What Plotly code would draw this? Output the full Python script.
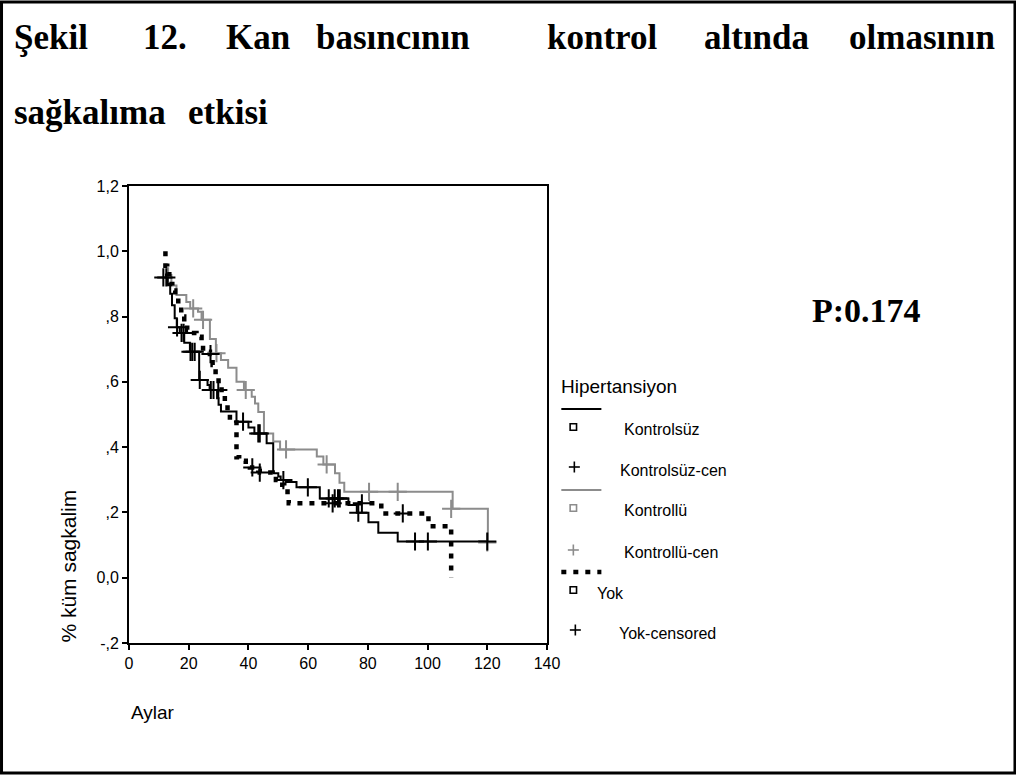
import plotly.graph_objects as go

# ---------------- data ----------------
# Kontrolsüz (black solid KM step curve)
kontrolsuz_t = [12.0, 13.0, 13.8, 14.4, 15.3, 16.0, 17.0, 18.5, 20.4, 23.5, 26.3, 27.0, 29.5, 30.0,
                30.8, 36.0, 40.0, 42.0, 46.1, 48.3, 50.0, 50.8, 52.5, 56.1, 63.9, 73.5, 76.3, 80.2,
                83.5, 90.0, 120.0]
kontrolsuz_s = [0.92, 0.90, 0.87, 0.835, 0.795, 0.767, 0.75, 0.72, 0.692, 0.606, 0.59, 0.575, 0.55, 0.53,
                0.509, 0.478, 0.46, 0.442, 0.412, 0.32, 0.31, 0.299, 0.293, 0.277, 0.243, 0.223, 0.199, 0.17,
                0.138, 0.111, 0.111]
kontrolsuz_cen_t = [11.5, 12.5, 16.1, 17.6, 18.3, 20.6, 21.2, 22.0, 23.7, 27.4, 28.3, 29.9, 38.2, 43.3,
                    43.8, 51.7, 59.9, 66.9, 68.9, 70.0, 70.6, 76.8, 95.8, 100.1, 120.0]
kontrolsuz_cen_s = [0.92, 0.92, 0.767, 0.75, 0.75, 0.692, 0.692, 0.692, 0.606, 0.575, 0.575, 0.575, 0.478, 0.442,
                    0.442, 0.299, 0.277, 0.243, 0.243, 0.243, 0.243, 0.199, 0.111, 0.111, 0.111]

# Kontrollü (gray solid KM step curve)
kontrollu_t = [12.3, 13.1, 14.2, 15.9, 19.2, 20.5, 23.1, 24.3, 27.1, 29.1, 30.8, 33.2, 36.0, 38.5, 41.1,
               42.2, 43.3, 45.2, 48.3, 50.6, 62.9, 65.1, 69.0, 70.5, 72.1, 108.4, 120.2]
kontrollu_s = [0.948, 0.927, 0.895, 0.866, 0.845, 0.825, 0.815, 0.79, 0.731, 0.688, 0.667, 0.643, 0.6, 0.575, 0.554,
               0.534, 0.508, 0.442, 0.417, 0.393, 0.371, 0.347, 0.32, 0.291, 0.263, 0.211, 0.108]
kontrollu_cen_t = [21.5, 24.8, 29.3, 39.1, 52.6, 66.2, 80.4, 90.0, 107.9, 120.0]
kontrollu_cen_s = [0.825, 0.79, 0.688, 0.575, 0.393, 0.347, 0.263, 0.263, 0.211, 0.108]

# Yok (black dotted KM step curve)
yok_t = [12.2, 12.2, 12.8, 13.5, 14.5, 15.5, 16.5, 17.5, 18.5, 19.5, 21.0, 22.6, 24.3, 24.8, 27.1, 28.0,
         29.0, 30.0, 31.0, 32.1, 33.0, 33.8, 36.0, 36.9, 38.0, 39.1, 40.5, 42.2, 43.3, 43.8, 48.1, 49.2,
         50.5, 52.0, 53.1, 53.5, 84.5, 100.3, 107.9]
yok_s = [1.0, 0.956, 0.93, 0.90, 0.88, 0.86, 0.83, 0.80, 0.78, 0.76, 0.75, 0.738, 0.723, 0.692, 0.685, 0.652,
         0.616, 0.585, 0.56, 0.539, 0.51, 0.483, 0.369, 0.361, 0.358, 0.345, 0.338, 0.332, 0.328, 0.322, 0.315, 0.299,
         0.285, 0.272, 0.246, 0.228, 0.197, 0.158, 0.0]
yok_cen_t = [27.3, 41.3, 43.8, 68.2, 78.0, 91.7]
yok_cen_s = [0.685, 0.338, 0.322, 0.228, 0.228, 0.197]

y_tickvals = [-0.2, 0.0, 0.2, 0.4, 0.6, 0.8, 1.0, 1.2]
y_ticktext = ["-,2", "0,0", ",2", ",4", ",6", ",8", "1,0", "1,2"]
x_tickvals = [0, 20, 40, 60, 80, 100, 120, 140]

title_line1 = ["Şekil", "12.", "Kan", "basıncının", "kontrol", "altında", "olmasının"]
title_line2 = ["sağkalıma", "etkisi"]
legend_title = "Hipertansiyon"
legend_labels = ["Kontrolsüz", "Kontrolsüz-cen", "Kontrollü", "Kontrollü-cen", "Yok", "Yok-censored"]

# ---------------- layout geometry ----------------
W, H = 1016, 775
L, R, T, B = 129.3, 546.7, 186.0, 643.0
PW, PH = R - L, B - T


def px(x):
    return (x - L) / PW


def py(y):
    return (B - y) / PH


GRAY = "#8c8c8c"
SANS = "Liberation Sans, Arial, sans-serif"
SERIF = "Liberation Serif, Times New Roman, serif"

fig = go.Figure()

fig.add_trace(go.Scatter(x=kontrollu_t, y=kontrollu_s, mode="lines", line=dict(color=GRAY, width=2, shape="hv"),
                         name="Kontrollü", showlegend=False, hoverinfo="skip"))
fig.add_trace(go.Scatter(x=yok_t, y=yok_s, mode="lines",
                         line=dict(color="black", width=4.5, shape="hv", dash="5px,7px"),
                         name="Yok", showlegend=False, hoverinfo="skip"))
fig.add_trace(go.Scatter(x=kontrolsuz_t, y=kontrolsuz_s, mode="lines", line=dict(color="black", width=2, shape="hv"),
                         name="Kontrolsüz", showlegend=False, hoverinfo="skip"))
fig.add_trace(go.Scatter(x=kontrollu_cen_t, y=kontrollu_cen_s, mode="markers",
                         marker=dict(symbol="cross-thin", size=13, line=dict(color=GRAY, width=2)),
                         name="Kontrollü-cen", showlegend=False, hoverinfo="skip"))
fig.add_trace(go.Scatter(x=kontrolsuz_cen_t, y=kontrolsuz_cen_s, mode="markers",
                         marker=dict(symbol="cross-thin", size=13, line=dict(color="black", width=2)),
                         name="Kontrolsüz-cen", showlegend=False, hoverinfo="skip"))
fig.add_trace(go.Scatter(x=yok_cen_t, y=yok_cen_s, mode="markers",
                         marker=dict(symbol="cross-thin", size=13, line=dict(color="black", width=2)),
                         name="Yok-censored", showlegend=False, hoverinfo="skip"))

shapes = []
annotations = []

# outer page frame
shapes.append(dict(type="rect", xref="paper", yref="paper", x0=px(2), x1=px(1014), y0=py(2), y1=py(773),
                   line=dict(color="black", width=3), layer="above"))


def text(t, x, y, size, font=SANS, anchor="left", bold=False, color="black", angle=0):
    annotations.append(dict(text=("<b>%s</b>" % t) if bold else t, x=px(x), y=py(y), xref="paper", yref="paper",
                            xanchor=anchor, yanchor="middle", showarrow=False, textangle=angle,
                            font=dict(family=font, size=size, color=color)))


# title
line1_x = [12, 141, 224, 314, 545, 701, 846]
for w, x in zip(title_line1, line1_x):
    text(w, x, 37, 35, font=SERIF, bold=True)
line2_x = [12, 186]
for w, x in zip(title_line2, line2_x):
    text(w, x, 113, 35, font=SERIF, bold=True)

text("P:0.174", 866, 310, 34, font=SERIF, bold=True, anchor="center")

# axis titles
text("% küm sagkalim", 68, 566, 21, angle=-90, anchor="center")
text("Aylar", 129, 712, 19)

# legend
text(legend_title, 559, 386, 19)


def hline(x0, x1, y, color, width=2, dash=None):
    ln = dict(color=color, width=width)
    if dash:
        ln["dash"] = dash
    shapes.append(dict(type="line", xref="paper", yref="paper", x0=px(x0), x1=px(x1), y0=py(y), y1=py(y), line=ln))


def square(cx, cy, color):
    s = 3.2
    shapes.append(dict(type="rect", xref="paper", yref="paper", x0=px(cx - s), x1=px(cx + s),
                       y0=py(cy - s), y1=py(cy + s), line=dict(color=color, width=1.6)))


def plus(cx, cy, color):
    s = 5.5
    shapes.append(dict(type="line", xref="paper", yref="paper", x0=px(cx - s), x1=px(cx + s), y0=py(cy), y1=py(cy),
                       line=dict(color=color, width=1.6)))
    shapes.append(dict(type="line", xref="paper", yref="paper", x0=px(cx), x1=px(cx), y0=py(cy - s), y1=py(cy + s),
                       line=dict(color=color, width=1.6)))


hline(561, 601, 409, "black", 2)
square(573, 427, "black")
text(legend_labels[0], 622, 429, 16)
plus(574, 467, "black")
text(legend_labels[1], 618, 470, 16)
hline(561, 601, 490, GRAY, 2)
square(573, 508, GRAY)
text(legend_labels[2], 622, 511, 16)
plus(573, 550, GRAY)
text(legend_labels[3], 622, 552, 16)
hline(561, 601, 572, "black", 4.5, "5px,7px")
square(573, 590, "black")
text(legend_labels[4], 595, 593, 16)
plus(575, 630, "black")
text(legend_labels[5], 617, 633, 16)

fig.update_layout(
    width=W, height=H,
    margin=dict(l=L, r=W - R, t=T, b=H - B, pad=0),
    paper_bgcolor="white", plot_bgcolor="white",
    showlegend=False,
    shapes=shapes, annotations=annotations,
    font=dict(family=SANS, color="black"),
)
fig.update_xaxes(range=[0, 140], tickvals=x_tickvals, ticks="outside", ticklen=5, tickwidth=1.5,
                 tickcolor="black", showline=True, linecolor="black", linewidth=2, mirror=True,
                 showgrid=False, zeroline=False, tickfont=dict(size=16, family=SANS, color="black"))
fig.update_yaxes(range=[-0.2, 1.2], tickvals=y_tickvals, ticktext=y_ticktext, ticks="outside", ticklen=5,
                 tickwidth=1.5, tickcolor="black", showline=True, linecolor="black", linewidth=2, mirror=True,
                 showgrid=False, zeroline=False, tickfont=dict(size=16, family=SANS, color="black"))

fig.write_html("out.html")
